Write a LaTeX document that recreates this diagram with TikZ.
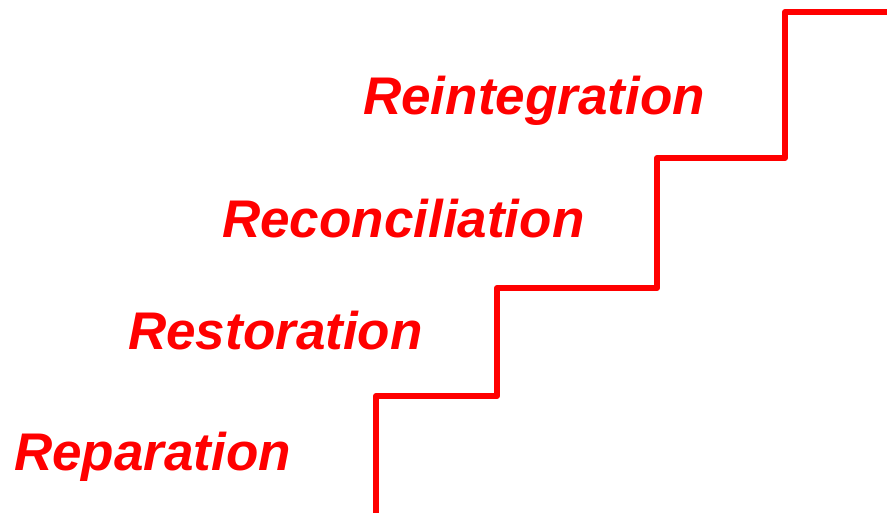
\documentclass[tikz,border=0pt]{standalone}
\usepackage{fontspec}
\setmainfont{Liberation Sans}
\begin{document}
\begin{tikzpicture}[x=1pt,y=-1pt,
  lbl/.style={anchor=base west,inner sep=0pt,text=red,font=\fontsize{53}{60}\selectfont\bfseries\itshape},
  stair/.style={draw=red,line width=6pt,line join=round}]
\useasboundingbox (0,0) rectangle (887,512);
\clip (0,0) rectangle (887,512);
\node[lbl] (rep) at (14,470) {Reparation};
\node[lbl] (res) at (128,349) {Restoration};
\node[lbl] (rec) at (222,237) {Reconciliation};
\node[lbl] (rei) at (363,114) {Reintegration};
\coordinate (s0) at (376,520);
\coordinate (s1) at (376,396);
\coordinate (s2) at (497,396);
\coordinate (s3) at (497,288);
\coordinate (s4) at (657,288);
\coordinate (s5) at (657,158);
\coordinate (s6) at (785,158);
\coordinate (s7) at (785,12);
\coordinate (s8) at (895,12);
\draw[stair] (s0) -- (s1) -- (s2) -- (s3) -- (s4) -- (s5) -- (s6) -- (s7) -- (s8);
\end{tikzpicture}
\end{document}
